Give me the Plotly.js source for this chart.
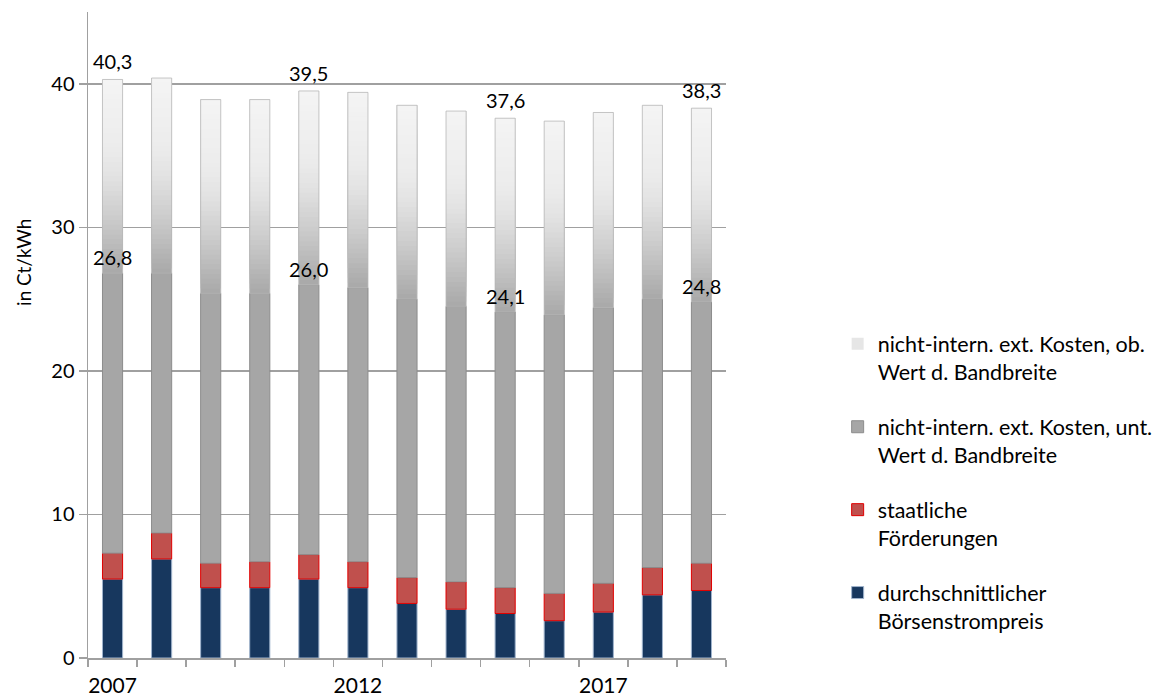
<!DOCTYPE html>
<html>
<head>
<meta charset="utf-8">
<script src="https://cdn.plot.ly/plotly-3.0.1.min.js"></script>
<style>html,body{margin:0;padding:0;background:#fff;}#chart{width:1161px;height:698px;}</style>
</head>
<body>
<div id="chart"></div>
<script>
// ---- data (Ct/kWh) ----
const years = [2007, 2008, 2009, 2010, 2011, 2012, 2013, 2014, 2015, 2016, 2017, 2018, 2019];
const tickYears = [2007, 2012, 2017];
const boersenstrompreis = [5.5, 6.9, 4.9, 4.9, 5.5, 4.9, 3.8, 3.4, 3.1, 2.6, 3.2, 4.4, 4.7];
const foerderungen = [1.8, 1.8, 1.7, 1.8, 1.7, 1.8, 1.8, 1.9, 1.8, 1.9, 2.0, 1.9, 1.9];
const extKostenUnten = [19.5, 18.1, 18.8, 18.7, 18.8, 19.1, 19.4, 19.2, 19.2, 19.4, 19.2, 18.7, 18.2];
const extKostenOben = [13.5, 13.6, 13.5, 13.5, 13.5, 13.6, 13.5, 13.6, 13.5, 13.5, 13.6, 13.5, 13.5];
const labelledYears = [2007, 2011, 2015, 2019];

const names = [
  'durchschnittlicher<br>Börsenstrompreis',
  'staatliche<br>Förderungen',
  'nicht-intern. ext. Kosten, unt.<br>Wert d. Bandbreite',
  'nicht-intern. ext. Kosten, ob.<br>Wert d. Bandbreite'
];

const x = years;
const base1 = boersenstrompreis.map(() => 0);
const base2 = boersenstrompreis.slice();
const base3 = boersenstrompreis.map((v, i) => v + foerderungen[i]);
const base4 = base3.map((v, i) => v + extKostenUnten[i]);
const top4 = base4.map((v, i) => v + extKostenOben[i]);
const boundaries = years.map(y => y - 0.5).concat([years[years.length - 1] + 0.5]);

const font = 'Lato, "Open Sans", sans-serif';
const traces = [];
traces.push({type: 'bar', x: x, y: boersenstrompreis, base: base1, name: names[0], legendgroup: 'a', legendrank: 4,
  marker: {color: '#17375e', line: {color: '#9fb3cc', width: 1}}, hoverinfo: 'y'});
traces.push({type: 'bar', x: x, y: foerderungen, base: base2, name: names[1], legendgroup: 'b', legendrank: 3,
  marker: {color: '#c0504d', line: {color: '#e00000', width: 1}}, hoverinfo: 'y'});
traces.push({type: 'bar', x: x, y: extKostenUnten, base: base3, name: names[2], legendgroup: 'c', legendrank: 2,
  marker: {color: '#a6a6a6', line: {color: '#8c8c8c', width: 1}}, hoverinfo: 'y'});

// gradient for the upper band: dark at bottom -> light at top
function gradColor(t) { // t: 0 bottom, 1 top
  const stops = [[0, 168], [0.25, 200], [0.5, 226], [0.65, 236], [1, 244]];
  for (let s = 1; s < stops.length; s++) {
    if (t <= stops[s][0]) {
      const a = stops[s - 1], b = stops[s];
      const f = (t - a[0]) / (b[0] - a[0]);
      const c = Math.round(a[1] + f * (b[1] - a[1]));
      return 'rgb(' + c + ',' + c + ',' + c + ')';
    }
  }
  return 'rgb(244,244,244)';
}
const N = 40;
const legendSlice = Math.round(N * 0.55);
for (let k = 0; k < N; k++) {
  traces.push({type: 'bar', x: x,
    y: extKostenOben.map(v => v * (1 - k / N)),
    base: base4.map((b, i) => b + extKostenOben[i] * k / N),
    name: names[3], legendgroup: 'd', legendrank: 1, showlegend: k === legendSlice,
    marker: {color: gradColor((k + 0.5) / N), line: {width: 0}},
    hoverinfo: 'skip'});
}
// outline of upper band
traces.push({type: 'bar', x: x, y: extKostenOben, base: base4, showlegend: false,
  marker: {color: 'rgba(0,0,0,0)', line: {color: '#b8b8b8', width: 0.8}}, hoverinfo: 'y'});

const annotations = [];
labelledYears.forEach(yr => {
  const i = years.indexOf(yr);
  annotations.push({x: yr, y: top4[i], text: top4[i].toFixed(1).replace('.', ','),
    showarrow: false, yanchor: 'bottom', yshift: 4, font: {family: font, size: 20, color: '#000'}});
  annotations.push({x: yr, y: base4[i], text: base4[i].toFixed(1).replace('.', ','),
    showarrow: false, yanchor: 'bottom', yshift: 2, font: {family: font, size: 20, color: '#000'}});
});
annotations.push({xref: 'paper', yref: 'paper', x: -0.102, xanchor: 'center', y: 0.613, yanchor: 'middle',
  text: 'in Ct/kWh', textangle: -90, showarrow: false, font: {family: font, size: 19, color: '#000'}});

const layout = {
  width: 1161, height: 698,
  margin: {l: 88, r: 435, t: 12, b: 40, autoexpand: false},
  paper_bgcolor: '#fff', plot_bgcolor: '#fff',
  barmode: 'overlay', bargap: 0.59,
  font: {family: font, size: 20, color: '#000'},
  showlegend: true,
  legend: {x: 1.175, xanchor: 'left', y: 0.518, yanchor: 'top', traceorder: 'grouped',
    tracegroupgap: 24, valign: 'top', itemwidth: 30, bgcolor: 'rgba(0,0,0,0)',
    font: {family: font, size: 21.5, color: '#000'}},
  xaxis: {type: 'linear', range: [boundaries[0], boundaries[boundaries.length - 1]],
    tickvals: tickYears, ticktext: tickYears.map(String), ticks: '', ticklabelstandoff: 8,
    minor: {tickvals: boundaries, ticks: 'outside', ticklen: 7, tickwidth: 1.5, tickcolor: '#a0a0a0', showgrid: false},
    showline: true, linecolor: '#a0a0a0', linewidth: 1.5, showgrid: false, zeroline: false,
    tickfont: {family: font, size: 21, color: '#000'}, fixedrange: true},
  yaxis: {range: [0, 45], tickvals: [0, 10, 20, 30, 40], ticks: 'outside', ticklen: 8,
    tickwidth: 1.5, tickcolor: '#a0a0a0', showline: true, linecolor: '#a0a0a0', linewidth: 1.5,
    showgrid: true, gridcolor: '#a0a0a0', gridwidth: 1.5, zeroline: false,
    tickfont: {family: font, size: 20, color: '#000'}, fixedrange: true},
  annotations: annotations
};

Plotly.newPlot('chart', traces, layout, {displayModeBar: false, staticPlot: true});
</script>
</body>
</html>
